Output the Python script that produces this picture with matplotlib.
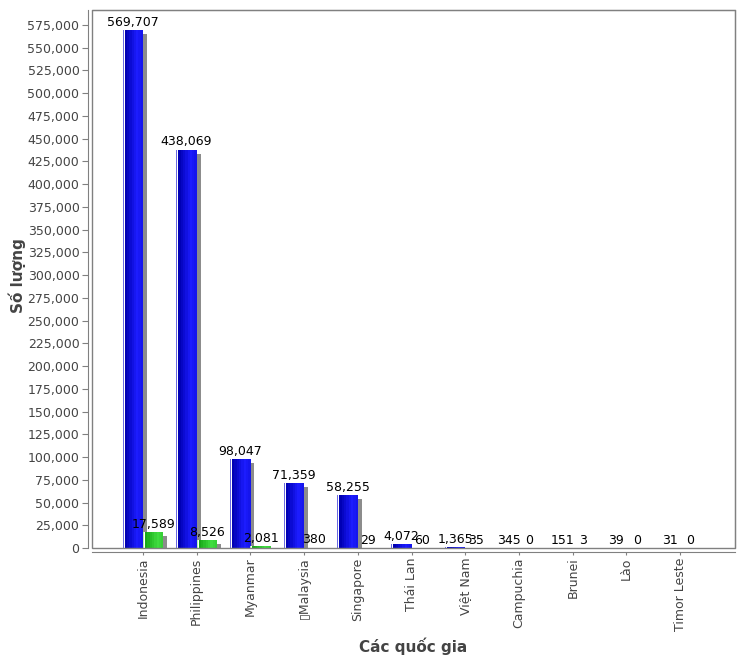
import numpy as np
import matplotlib
matplotlib.use('Agg')
import matplotlib.pyplot as plt
from matplotlib.patches import Rectangle
from matplotlib.colors import to_rgb

quoc_gia = ['Indonesia', 'Philippines', 'Myanmar', '\u25afMalaysia', 'Singapore',
            'Thái Lan', 'Việt Nam', 'Campuchia', 'Brunei', 'Lào', 'Timor Leste']
so_luong_1 = [569707, 438069, 98047, 71359, 58255, 4072, 1365, 345, 151, 39, 31]
so_luong_2 = [17589, 8526, 2081, 380, 29, 60, 35, 0, 3, 0, 0]
yticks = list(range(0, 575001, 25000))

W, H = 751, 662
fig = plt.figure(figsize=(W / 100, H / 100), dpi=100)
ax = fig.add_axes([92 / W, 1 - 548 / H, (735 - 92) / W, (548 - 10) / H])

xmin, xmax = -0.95, 11.02
ymin, ymax = 0, 591500
ax.set_xlim(xmin, xmax)
ax.set_ylim(ymin, ymax)
px_x = (xmax - xmin) / (735 - 92)
px_y = (ymax - ymin) / (548 - 10)

bw = 0.38
x = np.arange(len(quoc_gia))


def ve_cot(vitri, giatri, c_toi, c_sang, c_vien, z):
    # bong xam
    sh = [max(v - 4 * px_y, 0) for v in giatri]
    ax.bar(vitri + 4 * px_x, sh, width=bw, color='#8c8c8c', align='edge', zorder=z, linewidth=0)
    # vien sang ben trai
    ax.bar(vitri, giatri, width=px_x, color=c_vien, align='edge', zorder=z + 1, linewidth=0)
    ax.bar(vitri + px_x, giatri, width=px_x, color='white', align='edge', zorder=z + 1, linewidth=0)
    # gradient
    n = 8
    left = vitri + 2 * px_x
    sw = (bw - 2 * px_x) / n
    a, b = np.array(to_rgb(c_toi)), np.array(to_rgb(c_sang))
    for k in range(n):
        t = k / (n - 1)
        t = min(t / 0.7, 1.0) if t <= 0.7 else 1 - (t - 0.7) * 0.8
        col = a + (b - a) * t
        ax.bar(left + k * sw, giatri, width=sw * 1.02, color=col, align='edge', zorder=z + 1, linewidth=0)
    for xi, v in zip(vitri, giatri):
        ax.annotate(f'{v:,}', (xi + bw / 2, v), xytext=(0, 3), textcoords='offset points',
                    ha='center', va='baseline', fontsize=9, color='black', zorder=10)


ve_cot(x - bw, so_luong_1, '#0000b4', '#1c1cff', '#6a6ae0', 2)
ve_cot(x, so_luong_2, '#18a818', '#40dd40', '#b0f0b0', 4)

grey = '#808080'
for s in ['top', 'right']:
    ax.spines[s].set_color(grey)
for s in ['left', 'bottom']:
    ax.spines[s].set_color(grey)
    ax.spines[s].set_position(('outward', 3))
ax.add_patch(Rectangle((0, 0), 1, 1, transform=ax.transAxes, fill=False,
                       edgecolor=grey, linewidth=1, zorder=20, clip_on=False))

ax.set_yticks(yticks)
ax.set_yticklabels([f'{v:,}' for v in yticks])
ax.set_xticks(x)
ax.set_xticklabels(quoc_gia, rotation=90)
ax.tick_params(axis='y', length=4, color=grey, labelcolor='#444444', labelsize=9, pad=2)
ax.tick_params(axis='x', length=2, color=grey, labelcolor='#444444', labelsize=9, pad=2)

fig.text(413 / W, 1 - 646 / H, 'Các quốc gia', ha='center', va='center',
         fontsize=11, fontweight='bold', color='#444444')
fig.text(17 / W, 1 - 276 / H, 'Số lượng', ha='center', va='center', rotation=90,
         fontsize=11, fontweight='bold', color='#444444')

fig.savefig('out.png', dpi=100)
